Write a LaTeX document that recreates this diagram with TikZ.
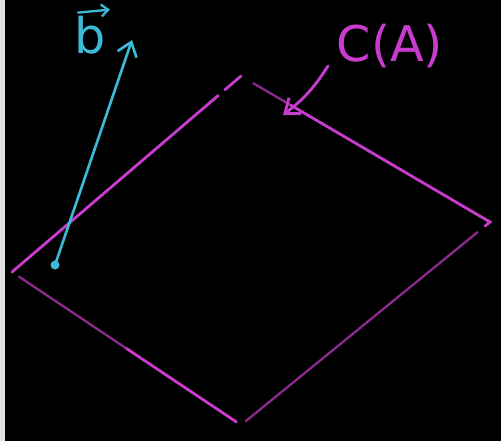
\documentclass[tikz,border=0pt]{standalone}
\usepackage{fontspec}
\setsansfont{DejaVu Sans}
\usepackage{tikz}
\usetikzlibrary{arrows.meta,positioning,calc}
\definecolor{myMagenta}{RGB}{200,60,205}
\definecolor{myCyan}{RGB}{60,185,215}
\definecolor{myEdge}{RGB}{225,225,225}
\tikzset{
	pedge/.style={line width=1.6pt, myMagenta, line cap=round},
	pfaint/.style={line width=1.3pt, myMagenta!70!black, line cap=round},
	varr/.style={-{Straight Barb[length=2.6mm, width=4mm]}, line width=1.5pt, myCyan, line cap=round},
	parr/.style={-{Straight Barb[length=2.6mm, width=4mm]}, line width=1.6pt, myMagenta, line cap=round},
	hand/.style={font=\sffamily\fontsize{28}{28}\selectfont, inner sep=0pt}
}

\begin{document}
\begin{tikzpicture}[x=0.02cm, y=-0.02cm]
		\fill[black] (0,0) rectangle (501,441);
		\fill[myEdge] (0,0) rectangle (5,441);
		% corners of the plane
		\coordinate (pL) at (12,272);
		\coordinate (pT) at (241,76);
		\coordinate (pR) at (490,222);
		\coordinate (pB) at (241,425);
		\draw[pedge] (pL) -- ($(pL)!0.9!(pT)$);
		\draw[pedge] ($(pL)!0.93!(pT)$) -- (pT);
		\draw[pfaint] ($(pT)!0.05!(pR)$) -- ($(pT)!0.2!(pR)$);
		\draw[pedge] ($(pT)!0.2!(pR)$) -- (pR) -- ($(pR)!0.02!(pB)$);
		\draw[pfaint] ($(pR)!0.05!(pB)$) -- ($(pB)!0.02!(pR)$);
		\draw[pfaint] ($(pL)!0.03!(pB)$) -- ($(pL)!0.5!(pB)$);
		\draw[pedge] ($(pL)!0.5!(pB)$) -- ($(pB)!0.02!(pL)$);
		% vector b
		\coordinate (bTail) at (55,265);
		\coordinate (bTip) at (132,40);
		\fill[myCyan] (bTail) circle (4.5);
		\draw[varr] (bTail) -- (bTip);
		\node[hand, text=myCyan] (bLabel) at (90,35) {b};
		\draw[varr, -{Straight Barb[length=1.4mm, width=2.4mm]}, line width=1.3pt]
			($(bLabel.north west)+(4,-3)$) -- ($(bLabel.north east)+(4,-6)$);
		% column space label
		\node[hand, text=myMagenta] (CA) at (390,46) {C(A)};
		\coordinate (caTip) at (283,115);
		\draw[parr] (328,66) to[bend left=10] (caTip);
	\end{tikzpicture}
\end{document}
